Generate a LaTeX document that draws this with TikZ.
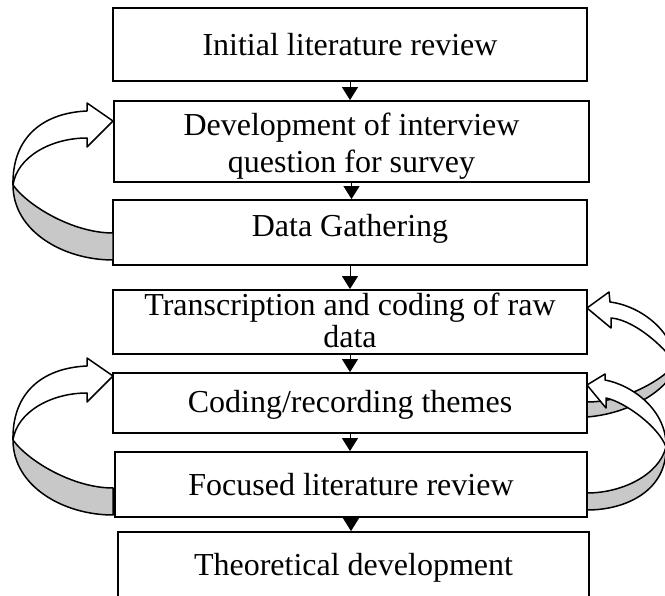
\documentclass[tikz,border=0pt]{standalone}
\usepackage{fontspec}
\setmainfont{Liberation Serif}
\usetikzlibrary{arrows.meta}
\definecolor{bandgrey}{RGB}{200,200,200}
\newcommand{\shiftv}[2]{\raisebox{#1}[\height][\depth]{#2}}
\newcommand{\twolines}[3]{\shiftv{#1}{\begin{tabular}{@{}c@{}}#2\\#3\end{tabular}}}
\begin{document}
\begin{tikzpicture}[x=1pt,y=-1pt,
  box/.style={draw, line width=1.8pt, rectangle, inner sep=0pt, align=center,
    font=\fontsize{32}{36}\selectfont},
  conn/.style={line width=1pt, -{Triangle[width=16pt,length=13pt]}},
  band/.style={draw=black, line width=1.5pt, line join=round},
  leftloop/.pic={
    \path[band, fill=bandgrey] (-100,64) .. controls (-100,110) and (-50,139) .. (0,139)
      -- (0,112) .. controls (-40,112) and (-85,85) .. cycle;
    \path[band, fill=white] (-26,-10) .. controls (-72,-8) and (-101,18) .. (-100,64)
      .. controls (-96,36) and (-62,17) .. (-26,17) -- (-26,26) -- (0,0) -- (-26,-18) -- cycle;
  }
]
\useasboundingbox (0,0) rectangle (665,596);
\clip (0,0) rectangle (665,596);
\fill[white] (0,0) rectangle (665,596);

\node[box, minimum width=474pt, minimum height=73pt] (b1) at (350,44.5) {Initial literature review};
\node[box, minimum width=475pt, minimum height=81pt, font=\fontsize{32}{37}\selectfont] (b2) at (351.5,141.5)
  {\twolines{-5.5pt}{Development of interview}{question for survey}};
\node[box, minimum width=474pt, minimum height=65pt] (b3) at (350,232.5) {\shiftv{4pt}{Data Gathering}};
\node[box, minimum width=474pt, minimum height=64pt, font=\fontsize{32}{32}\selectfont] (b4) at (350,322)
  {\twolines{-3pt}{Transcription and coding of raw}{data}};
\node[box, minimum width=474pt, minimum height=60pt] (b5) at (350,403) {\shiftv{-1.5pt}{Coding/recording themes}};
\node[box, minimum width=472pt, minimum height=65pt] (b6) at (351,484.5) {Focused literature review};
\node[box, minimum width=471pt, minimum height=68pt] (b7) at (353.5,566) {\shiftv{-2pt}{Theoretical development}};

\draw[conn] (b1.south) -- (b1.south |- b2.north);
\draw[conn] (b2.south) -- (b2.south |- b3.north);
\draw[conn] (b3.south) -- (b3.south |- b4.north);
\draw[conn] (b4.south) -- (b4.south |- b5.north);
\draw[conn] (b5.south) -- (b5.south |- b6.north);
\draw[conn] (b6.south) -- (b6.south |- b7.north);

% left loops
\pic at (113,121) {leftloop};
\pic at (113,376) {leftloop};

% right loop 1 (b5 -> b4)
\begin{scope}[shift={(587,308)}]
  \path[band, fill=white] (23,-6) .. controls (55,-2) and (88,25) .. (88,56)
    .. controls (84,46) and (50,12) .. (24,10) -- (24,20) -- (0,0) -- (22,-16) -- cycle;
  \path[band, fill=bandgrey] (88,56) .. controls (88,75) and (50,105) .. (0,109)
    -- (0,94) .. controls (45,94) and (84,64) .. cycle;
\end{scope}
% right loop 2 (b6 -> b5)
\begin{scope}[shift={(587,385)}]
  \path[band, fill=bandgrey] (79,62) .. controls (80,105) and (40,125) .. (0,125)
    -- (0,108) .. controls (35,108) and (72,90) .. cycle;
  \path[band, fill=white] (18,-5) .. controls (45,0) and (80,25) .. (79,62)
    .. controls (72,42) and (38,17) .. (19,13) -- (19,23) -- (0,0) -- (18,-11) -- cycle;
\end{scope}
\end{tikzpicture}
\end{document}
